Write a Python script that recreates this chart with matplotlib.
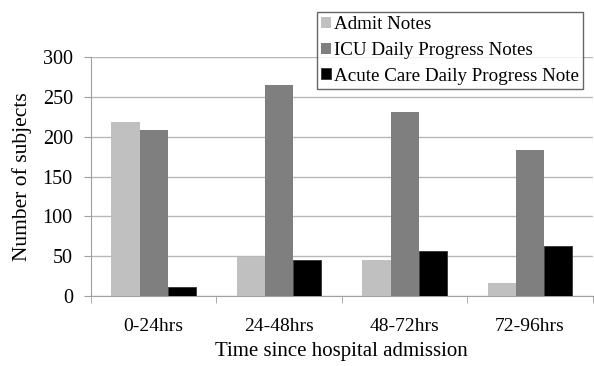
import matplotlib.pyplot as plt
import numpy as np

plt.rcParams['font.family'] = ['Liberation Serif', 'DejaVu Serif']

categories = ['0-24hrs', '24-48hrs', '48-72hrs', '72-96hrs']
admit_notes = [218, 49, 45, 17]
icu_notes = [208, 265, 231, 184]
acute_notes = [12, 45, 57, 63]
series_names = ['Admit Notes', 'ICU Daily Progress Notes', 'Acute Care Daily Progress Note']

fig = plt.figure(figsize=(5.94, 3.66), dpi=100)
ax = fig.add_axes([0.153, 0.191, 0.845, 0.653])

x = np.arange(len(categories))
w = 0.224
ax.bar(x - w, admit_notes, w, color='#c0c0c0', label=series_names[0], zorder=3)
ax.bar(x, icu_notes, w, color='#7f7f7f', label=series_names[1], zorder=3)
ax.bar(x + w, acute_notes, w, color='#000000', edgecolor='#333333', linewidth=0.6,
       label=series_names[2], zorder=3)

ax.set_xlim(-0.5, len(categories) - 0.5)
ax.set_ylim(0, 300)
ax.set_yticks(range(0, 301, 50))
ax.set_xticks(x)
ax.set_xticklabels(categories, fontsize=14)
ax.set_xticks(np.arange(-0.5, len(categories), 1.0), minor=True)
ax.tick_params(axis='x', which='major', length=0, pad=16)
ax.tick_params(axis='x', which='minor', length=5, color='#a0a0a0', direction='out')
ax.tick_params(axis='y', labelsize=14.5, length=5, color='#a0a0a0', pad=8)

ax.grid(axis='y', color='#b8b8b8', linewidth=1.0, zorder=0)
for s in ['top', 'right']:
    ax.spines[s].set_visible(False)
for s in ['left', 'bottom']:
    ax.spines[s].set_color('#a0a0a0')

ax.set_ylabel('Number of subjects', fontsize=15.5, labelpad=8)
ax.set_xlabel('Time since hospital admission', fontsize=15, labelpad=5)

leg = fig.legend(loc='upper left', bbox_to_anchor=(0.533, 0.968), fontsize=13.7,
                 frameon=True, fancybox=False, edgecolor='#404040',
                 handlelength=0.5, handleheight=0.5, handletextpad=0.15,
                 labelspacing=0.45, borderpad=0.25, borderaxespad=0)
leg.get_frame().set_linewidth(1.0)

fig.savefig('out.png', dpi=100)
